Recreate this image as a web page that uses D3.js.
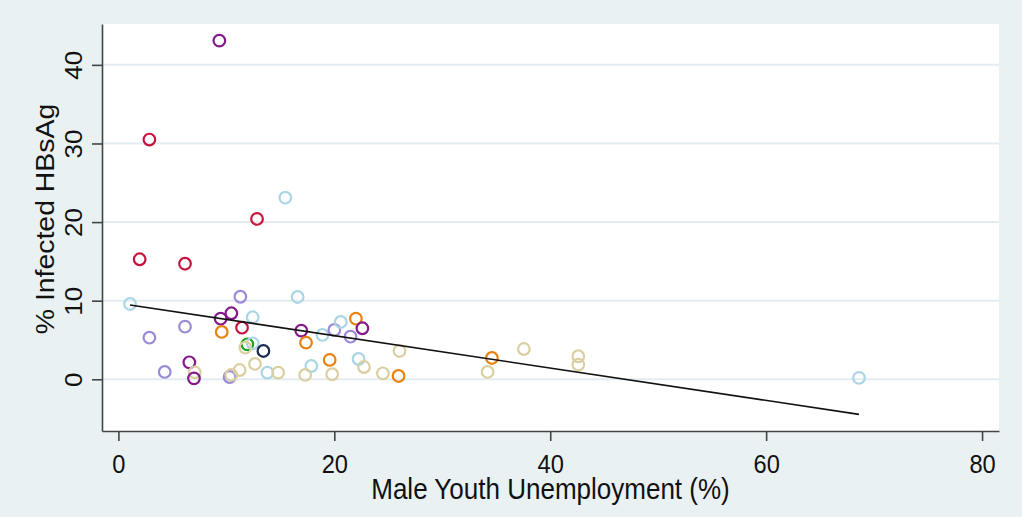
<!DOCTYPE html>
<html>
<head>
<meta charset="utf-8">
<script src="https://cdn.jsdelivr.net/npm/d3@7"></script>
<style>
  html, body { margin: 0; padding: 0; background: #e9f1f3; }
  svg { display: block; }
  text { font-family: Arial, "Liberation Sans", sans-serif; fill: #111; }
</style>
</head>
<body>
<svg id="chart" width="1022" height="517"></svg>
<script>
// Country-level observations: male youth unemployment (%) vs. % infected HBsAg
const unemployment = [
  1.97, 6.17, 1.08, 11.3, 16.6, 2.87, 6.17, 9.47, 10.46, 12.44,
  11.45, 9.57, 11.94, 12.44, 11.76, 13.43, 6.57, 7.07, 7.0, 4.29,
  10.3, 10.46, 11.23, 12.65, 13.8, 14.8, 16.94, 17.38, 18.9, 20.0,
  20.6, 22.0, 22.6, 21.5, 17.87, 17.3, 19.57, 19.8, 22.25, 22.75,
  24.5, 25.95, 26.04, 34.6, 34.2, 37.56, 42.6, 42.6, 68.6, 9.35,
  2.87, 12.84, 15.46
];
const hbsag = [
  15.27, 14.7, 9.58, 10.5, 10.47, 5.29, 6.69, 7.71, 8.4, 7.89,
  6.56, 6.02, 4.45, 4.58, 4.02, 3.6, 2.16, 0.89, 0.12, 0.93,
  0.29, 0.55, 1.18, 1.95, 0.85, 0.85, 6.19, 4.66, 5.64, 6.27,
  7.29, 7.71, 6.49, 5.42, 1.69, 0.55, 2.46, 0.64, 2.58, 1.56,
  0.76, 0.42, 3.6, 2.71, 0.93, 3.85, 2.93, 1.86, 0.17, 43.08,
  30.5, 20.4, 23.1
];
// Region group of each observation (index into regionColors)
const region = [
  0, 0, 2, 3, 2, 3, 3, 1, 1, 2,
  0, 4, 6, 2, 5, 7, 1, 5, 1, 3,
  3, 5, 5, 5, 2, 5, 1, 4, 2, 3,
  2, 4, 1, 3, 2, 5, 4, 5, 2, 5,
  5, 4, 5, 4, 5, 5, 5, 5, 2, 1,
  0, 0, 2
];
const regionColors = ["#c8143c", "#85198a", "#a9d5e5", "#9a8ad8", "#e8820e", "#d9cfa0", "#1aa41a", "#1c2850"];

// Linear fit of HBsAg prevalence on unemployment
const fitIntercept = 9.67;
const fitSlope = -0.206;

const xTicks = [0, 20, 40, 60, 80];
const yTicks = [0, 10, 20, 30, 40];
const xTitle = "Male Youth Unemployment (%)";
const yTitle = "% Infected HBsAg";

const svg = d3.select("#chart");
const W = 1022, H = 517;
const plot = { left: 102, right: 999, top: 24, bottom: 431 };
const squeeze = 0.91; // horizontal text compression

const x = d3.scaleLinear().domain([-1.52, 81.57]).range([plot.left, plot.right]);
const y = d3.scaleLinear().domain([-6.58, 45.2]).range([plot.bottom, plot.top]);

svg.append("rect").attr("width", W).attr("height", H).attr("fill", "#e9f1f3");
svg.append("rect")
  .attr("x", plot.left).attr("y", plot.top)
  .attr("width", plot.right - plot.left).attr("height", plot.bottom - plot.top)
  .attr("fill", "#ffffff");

// horizontal gridlines
svg.append("g").selectAll("line").data(yTicks).join("line")
  .attr("x1", plot.left).attr("x2", plot.right)
  .attr("y1", d => y(d)).attr("y2", d => y(d))
  .attr("stroke", "#e3edf1").attr("stroke-width", 2);

const n = unemployment.length;
const [xmin, xmax] = d3.extent(unemployment);

// markers
svg.append("g").selectAll("circle").data(d3.range(n)).join("circle")
  .attr("cx", i => x(unemployment[i]))
  .attr("cy", i => y(hbsag[i]))
  .attr("r", 5.8)
  .attr("fill", "none")
  .attr("stroke", i => regionColors[region[i]])
  .attr("stroke-width", 2.2);

// fitted line over the observed range
svg.append("line")
  .attr("x1", x(xmin)).attr("y1", y(fitIntercept + fitSlope * xmin))
  .attr("x2", x(xmax)).attr("y2", y(fitIntercept + fitSlope * xmax))
  .attr("stroke", "#111").attr("stroke-width", 1.6);

// x axis
const xAxis = svg.append("g").attr("transform", `translate(0,${plot.bottom})`)
  .call(d3.axisBottom(x).tickValues(xTicks).tickSize(10).tickSizeOuter(0).tickFormat(d3.format("d")));
xAxis.select(".domain").attr("stroke", "#444").attr("stroke-width", 1.6);
xAxis.selectAll(".tick line").attr("stroke", "#444").attr("stroke-width", 1.6);
xAxis.selectAll(".tick text").remove();
xAxis.selectAll(".tick").append("text")
  .attr("transform", `translate(0,42) scale(${squeeze},1)`)
  .attr("text-anchor", "middle")
  .style("font-size", "26px")
  .text(d => d);

// y axis
const yAxis = svg.append("g").attr("transform", `translate(${plot.left},0)`)
  .call(d3.axisLeft(y).tickValues(yTicks).tickSize(10).tickSizeOuter(0).tickFormat(d3.format("d")));
yAxis.select(".domain").attr("stroke", "#444").attr("stroke-width", 1.6);
yAxis.selectAll(".tick line").attr("stroke", "#444").attr("stroke-width", 1.6);
yAxis.selectAll(".tick text").remove();
yAxis.selectAll(".tick").append("text")
  .attr("transform", `translate(-20,0) scale(${squeeze},1) rotate(-90)`)
  .attr("text-anchor", "middle")
  .style("font-size", "26px")
  .text(d => d);

// axis titles
svg.append("text")
  .attr("transform", `translate(${(plot.left + plot.right) / 2},499) scale(${squeeze},1)`)
  .attr("text-anchor", "middle")
  .style("font-size", "28.6px")
  .text(xTitle);

svg.append("text")
  .attr("transform", `translate(54,219) scale(${squeeze},1) rotate(-90)`)
  .attr("text-anchor", "middle")
  .style("font-size", "28.4px")
  .text(yTitle);
</script>
</body>
</html>
